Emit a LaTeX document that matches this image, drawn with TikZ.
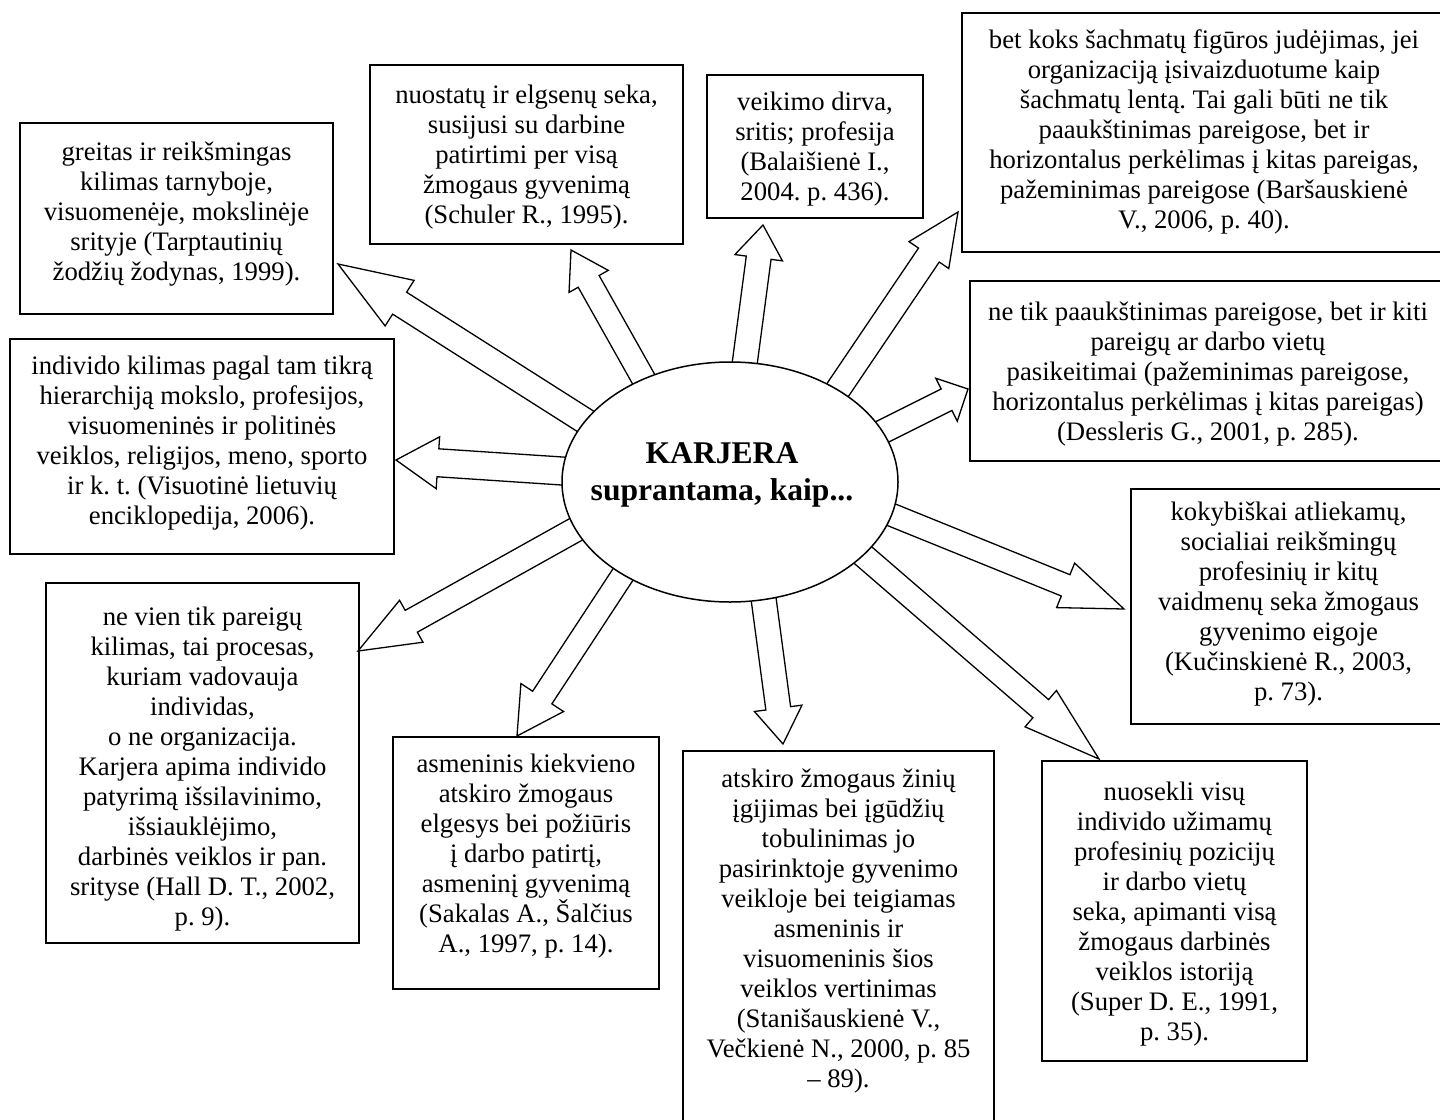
\documentclass[tikz,border=0pt]{standalone}
\usepackage{fontspec}
\setmainfont{Liberation Serif}
\usetikzlibrary{calc,shapes.geometric}
\newcommand{\boxfont}{\fontsize{13.35}{15}\selectfont}
\newcommand{\titlefont}{\fontsize{15.8}{18.5}\selectfont\bfseries}
\tikzset{
  frame/.style={draw, rectangle, line width=0.75pt, inner sep=0pt},
  boxtext/.style={inner sep=0pt, align=center, font=\boxfont},
  blockarrow/.style={draw, fill=white, line width=0.65pt, line join=miter},
  oval/.style={ellipse, draw, fill=white, line width=0.75pt, inner sep=0pt},
  titletext/.style={align=center, inner sep=0pt, font=\titlefont}
}
% #1 name, #2 left, #3 top, #4 right, #5 bottom, #6 first baseline, #7 text
\newcommand{\tbox}[7]{%
  \pgfmathsetmacro{\bw}{(#4-#2)*0.5}%
  \pgfmathsetmacro{\bh}{(#5-#3)*0.5}%
  \pgfmathsetmacro{\bx}{(#2+#4)/2}%
  \pgfmathsetmacro{\by}{(#3+#5)/2}%
  \pgfmathsetmacro{\ty}{#6-28}%
  \node[frame, minimum width=\bw pt, minimum height=\bh pt] (#1) at (\bx,\by) {};
  \node[boxtext, anchor=north] (#1-text) at (\bx,\ty) {\rule{0pt}{14pt}#7};
}
% #1 tail, #2 tip, #3 half shaft, #4 half head, #5 head length
\newcommand{\barrow}[5]{%
  \coordinate (ba-t) at ($(#1)!-12pt!(#2)$);
  \coordinate (ba-b) at ($(#2)!#5!(#1)$);
  \draw[blockarrow] ($(ba-t)!#3!90:(#2)$) -- ($(ba-b)!#3!90:(#2)$) -- ($(ba-b)!#4!90:(#2)$) -- (#2)
    -- ($(ba-b)!#4!-90:(#2)$) -- ($(ba-b)!#3!-90:(#2)$) -- ($(ba-t)!#3!-90:(#2)$) -- cycle;
}
\begin{document}
\lineskiplimit=-30pt
\frenchspacing
\begin{tikzpicture}[x=0.5pt,y=-0.5pt]
\fill[white] (0,0) rectangle (1440,1119);
\useasboundingbox (0,0) rectangle (1440,1119);

\tbox{A}{20}{123}{333}{314}{160}{greitas ir reikšmingas\\kilimas tarnyboje,\\visuomenėje, mokslinėje\\srityje (Tarptautinių\\žodžių žodynas, 1999).}
\tbox{B}{370}{65}{683}{244}{103}{nuostatų ir elgsenų seka,\\susijusi su darbine\\patirtimi per visą\\žmogaus gyvenimą\\(Schuler R., 1995).}
\tbox{C}{707}{75}{923}{218}{110}{veikimo dirva,\\sritis; profesija\\(Balaišienė I.,\\2004. p. 436).}
\tbox{D}{962}{13}{1446}{252}{48}{bet koks šachmatų figūros judėjimas, jei\\organizaciją įsivaizduotume kaip\\šachmatų lentą. Tai gali būti ne tik\\paaukštinimas pareigose, bet ir\\horizontalus perkėlimas į kitas pareigas,\\pažeminimas pareigose (Baršauskienė\\V., 2006, p. 40).}
\tbox{E}{970}{281}{1446}{461}{320}{ne tik paaukštinimas pareigose, bet ir kiti\\pareigų ar darbo vietų\\pasikeitimai (pažeminimas pareigose,\\horizontalus perkėlimas į kitas pareigas)\\(Dessleris G., 2001, p. 285).}
\tbox{F}{10}{339}{394}{554}{374}{individo kilimas pagal tam tikrą\\hierarchiją mokslo, profesijos,\\visuomeninės ir politinės\\veiklos, religijos, meno, sporto\\ir k. t. (Visuotinė lietuvių\\enciklopedija, 2006).}
\tbox{G}{1131}{489}{1446}{724}{520}{kokybiškai atliekamų,\\socialiai reikšmingų\\profesinių ir kitų\\vaidmenų seka žmogaus\\gyvenimo eigoje\\(Kučinskienė R., 2003,\\p. 73).}
\tbox{H}{46}{583}{359}{943}{625}{ne vien tik pareigų\\kilimas, tai procesas,\\kuriam vadovauja\\individas,\\o ne organizacija.\\Karjera apima individo\\patyrimą išsilavinimo,\\išsiauklėjimo,\\darbinės veiklos ir pan.\\srityse (Hall D. T., 2002,\\p. 9).}
\tbox{I}{393}{737}{659}{989}{772}{asmeninis kiekvieno\\atskiro žmogaus\\elgesys bei požiūris\\į darbo patirtį,\\asmeninį gyvenimą\\(Sakalas A., Šalčius\\A., 1997, p. 14).}
\tbox{J}{683}{751}{994}{1130}{787}{atskiro žmogaus žinių\\įgijimas bei įgūdžių\\tobulinimas jo\\pasirinktoje gyvenimo\\veikloje bei teigiamas\\asmeninis ir\\visuomeninis šios\\veiklos vertinimas\\(Stanišauskienė V.,\\Večkienė N., 2000, p. 85\\– 89).}
\tbox{K}{1042}{761}{1307}{1061}{800}{nuosekli visų\\individo užimamų\\profesinių pozicijų\\ir darbo vietų\\seka, apimanti visą\\žmogaus darbinės\\veiklos istoriją\\(Super D. E., 1991,\\p. 35).}

% arrow tails (on the oval) and tips (at the boxes)
\coordinate (tA) at (585,421);  \coordinate (pA) at (338,264);
\coordinate (tB) at (643,378);  \coordinate (pB) at (571,250);
\coordinate (tC) at (745,361);  \coordinate (pC) at (763,225);
\coordinate (tD) at (839,388);  \coordinate (pD) at (958,212);
\coordinate (tE) at (882,432);  \coordinate (pE) at (968,389);
\coordinate (tF) at (562,471);  \coordinate (pF) at (396,460);
\coordinate (tH) at (573,531);  \coordinate (pH) at (358,651);
\coordinate (tI) at (622,576);  \coordinate (pI) at (517,736);
\coordinate (tJ) at (764,602);  \coordinate (pJ) at (783,744);
\coordinate (tK) at (864,556);  \coordinate (pK) at (1099,759);
\coordinate (tG) at (892,515);  \coordinate (pG) at (1124,609);

\barrow{tA}{pA}{6.5pt}{13.5pt}{36.5pt}
\barrow{tB}{pB}{6pt}{11.25pt}{18pt}
\barrow{tC}{pC}{6.25pt}{12pt}{16.5pt}
\barrow{tD}{pD}{6.25pt}{12pt}{26pt}
\barrow{tE}{pE}{6pt}{12pt}{12pt}
\barrow{tF}{pF}{7pt}{13pt}{21pt}
\barrow{tH}{pH}{6.25pt}{12pt}{30.5pt}
\barrow{tI}{pI}{5.75pt}{12.75pt}{23pt}
\barrow{tJ}{pJ}{6.25pt}{12pt}{18pt}
\barrow{tK}{pK}{6pt}{12pt}{38.5pt}
\barrow{tG}{pG}{5.75pt}{12pt}{31.5pt}

\node[oval, minimum width=168pt, minimum height=120pt] (center) at (730,482) {};
\node[titletext] (title) at (722,474.5) {KARJERA\\suprantama, kaip...};
\end{tikzpicture}
\end{document}
